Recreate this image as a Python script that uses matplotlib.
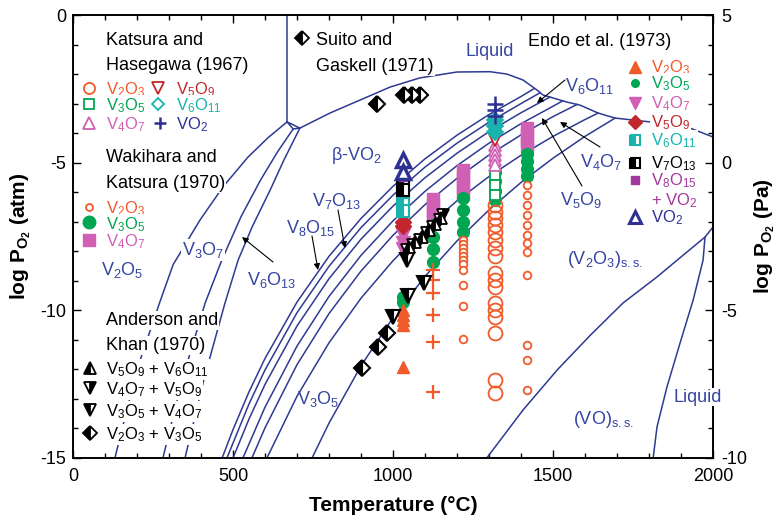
import matplotlib
matplotlib.use('Agg')
import matplotlib.pyplot as plt
from matplotlib.ticker import MultipleLocator

plt.rcParams['font.family'] = ['Liberation Sans', 'DejaVu Sans']
plt.rcParams['mathtext.fontset'] = 'custom'
plt.rcParams['mathtext.rm'] = 'Liberation Sans'
plt.rcParams['mathtext.it'] = 'Liberation Sans:italic'
plt.rcParams['mathtext.bf'] = 'Liberation Sans:bold'
plt.rcParams['axes.unicode_minus'] = False

# ---------------- phase boundaries (T in degC, log PO2 in atm) ----------------
liquid_top_T = [709, 803, 897, 991, 1084, 1200, 1303, 1356, 1406, 1450, 1469, 1544, 1584, 1641, 1694, 1803, 1919, 2000]
liquid_top_L = [-3.83, -3.32, -2.88, -2.44, -2.13, -1.93, -1.92, -2.00, -2.20, -2.54, -2.71, -2.95, -3.05, -3.32, -3.49, -3.62, -3.79, -4.13]

v2o5_melt_T = [669, 669]
v2o5_melt_L = [0.0, -3.62]
triple_T = [669, 688, 709, 669]
triple_L = [-3.62, -3.86, -3.83, -3.62]

lineA_T = [131, 200, 272, 313, 397, 470, 547, 610, 669]
lineA_L = [-15.0, -12.0, -9.7, -8.45, -6.94, -5.8, -4.81, -4.15, -3.62]
lineB_T = [281, 340, 413, 465, 525, 586, 640, 688]
lineB_L = [-15.0, -12.4, -9.75, -8.3, -6.83, -5.59, -4.62, -3.86]
lineC_T = [350, 410, 475, 516, 560, 616, 660, 709]
lineC_L = [-15.0, -12.3, -9.75, -8.3, -7.17, -5.93, -4.89, -3.83]

fan1_T = [466, 500, 550, 600, 700, 800, 900, 1000, 1100, 1200, 1300, 1400, 1440]
fan1_L = [-15.0, -14.04, -12.76, -11.63, -9.72, -8.17, -6.89, -5.80, -4.87, -4.07, -3.37, -2.76, -2.50]
fan2_T = [481, 550, 600, 700, 800, 900, 1000, 1100, 1200, 1300, 1400, 1460]
fan2_L = [-15.0, -13.17, -12.02, -10.08, -8.51, -7.20, -6.10, -5.15, -4.34, -3.63, -3.00, -2.63]
fan3_T = [500, 550, 600, 700, 800, 900, 1000, 1100, 1200, 1300, 1400, 1490]
fan3_L = [-15.0, -13.68, -12.51, -10.53, -8.93, -7.59, -6.47, -5.51, -4.68, -3.95, -3.31, -2.78]
fan4_T = [531, 600, 700, 800, 900, 1000, 1100, 1200, 1300, 1400, 1500, 1530]
fan4_L = [-15.0, -13.28, -11.21, -9.53, -8.14, -6.97, -5.97, -5.10, -4.34, -3.68, -3.09, -2.91]
fan5_T = [559, 600, 700, 800, 900, 1000, 1100, 1200, 1300, 1400, 1500, 1575]
fan5_L = [-15.0, -13.98, -11.84, -10.11, -8.67, -7.46, -6.42, -5.53, -4.74, -4.06, -3.44, -3.03]
fan6_T = [606, 700, 800, 900, 1000, 1100, 1200, 1300, 1400, 1500, 1600, 1641]
fan6_L = [-15.0, -12.91, -11.10, -9.59, -8.32, -7.23, -6.29, -5.47, -4.75, -4.11, -3.54, -3.32]
fan7_T = [747, 800, 900, 1000, 1100, 1200, 1300, 1400, 1500, 1600, 1694]
fan7_L = [-15.0, -13.82, -11.88, -10.25, -8.85, -7.65, -6.60, -5.67, -4.85, -4.11, -3.49]

vo_T = [1293, 1406, 1513, 1616, 1719, 1825, 1888, 1975]
vo_L = [-15.0, -13.38, -12.02, -10.85, -9.75, -8.87, -8.30, -7.52]
liquid_low_T = [1813, 1825, 1856, 1897, 1938, 1969, 1975, 2000]
liquid_low_L = [-15.0, -13.95, -12.60, -11.11, -9.65, -8.30, -7.52, -7.18]

# ---------------- experimental data ----------------
# Katsura & Hasegawa (1967), 1320 degC
kh_T = 1320
kh_VO2 = [-3.01, -3.22, -3.42]
kh_V6O11 = [-3.56, -3.76, -3.96]
kh_V5O9 = [-4.23]
kh_V4O7 = [-4.40, -4.57, -4.74, -4.91, -5.08]
kh_V3O5 = [-5.42, -5.76, -6.10]
kh_V2O3 = [-6.43, -6.67, -6.87, -7.11, -7.35, -7.62, -7.89, -8.16, -8.74, -8.97, -9.21,
           -9.75, -9.99, -10.23, -10.77, -12.36, -12.80]
cross_T = 1125
cross_L = [-8.64, -8.97, -9.41, -10.16, -11.07, -12.77]

# Wakihara & Katsura (1970)
wk_V2O3_T = [1220, 1220, 1220, 1220, 1220, 1220, 1220, 1220, 1220, 1220, 1220,
             1420, 1420, 1420, 1420, 1420, 1420, 1420, 1420, 1420, 1420, 1420, 1420]
wk_V2O3_L = [-7.62, -7.76, -7.89, -8.03, -8.16, -8.30, -8.43, -8.64, -9.14, -9.85, -10.97,
             -5.76, -6.10, -6.43, -6.77, -7.11, -7.45, -7.72, -8.03, -8.80, -11.17, -11.68, -12.70]
wk_V3O5_T = [1030, 1030, 1125, 1125, 1125, 1125, 1220, 1220, 1220, 1220,
             1320, 1320, 1320, 1320, 1420, 1420, 1420, 1420]
wk_V3O5_L = [-9.55, -9.72, -7.11, -7.52, -7.92, -8.36, -6.20, -6.60, -7.00, -7.35,
             -5.30, -5.62, -5.95, -6.27, -4.70, -4.95, -5.20, -5.45]
wk_V4O7_T = [1125, 1125, 1125, 1125, 1220, 1220, 1220, 1220, 1220, 1420, 1420, 1420, 1420]
wk_V4O7_L = [-6.23, -6.43, -6.64, -6.81, -5.25, -5.45, -5.65, -5.85, -6.05, -3.83, -4.03, -4.23, -4.43]

# Endo et al. (1973), 1030 degC
endo_T = 1030
endo_VO2 = [-4.91, -5.32]
endo_V8O15 = [-5.49]
endo_V7O13 = [-5.69, -5.93]
endo_V6O11 = [-6.16, -6.40, -6.64]
endo_V5O9 = [-7.01, -7.15]
endo_V4O7 = [-7.45, -7.72, -7.92]
endo_V2O3 = [-9.99, -10.16, -10.33, -10.50, -11.92]

# Anderson & Khan (1970)
ak_V2O3_V3O5_T = [903, 953, 981]
ak_V2O3_V3O5_L = [-11.95, -11.24, -10.77]
ak_V3O5_V4O7_T = [1000, 1047, 1097, 1044]
ak_V3O5_V4O7_L = [-10.23, -9.52, -9.08, -8.30]
ak_V4O7_V5O9_T = [1044, 1063, 1084, 1106, 1125, 1147, 1156]
ak_V4O7_V5O9_L = [-7.96, -7.79, -7.62, -7.38, -7.18, -6.94, -6.77]
ak_V5O9_V6O11_T = [1050, 1070, 1090, 1112, 1132, 1150]
ak_V5O9_V6O11_L = [-7.86, -7.70, -7.50, -7.28, -7.06, -6.86]

# Suito & Gaskell (1971)
sg_T = [950, 1035, 1060, 1085]
sg_L = [-3.00, -2.71, -2.71, -2.71]

# ---------------- styling ----------------
LC = '#2E3A92'
LBL = '#3545A2'
ORANGE = '#F15A29'
GREEN = '#00A651'
PINK = '#D060B4'
DRED = '#C1272D'
TEAL = '#17B3AC'
BLUE = '#2E3192'
PURPLE = '#A3389C'

fig = plt.figure(figsize=(7.77, 5.17), dpi=100)
X0, X1, Y0, Y1 = 73, 713, 15, 458
ax = fig.add_axes([X0 / 777, (517 - Y1) / 517, (X1 - X0) / 777, (Y1 - Y0) / 517])
ax.set_xlim(0, 2000)
ax.set_ylim(-15, 0)

def P(px, py):
    return ((px - X0) / (X1 - X0), (Y1 - py) / (Y1 - Y0))

curves = [(liquid_top_T, liquid_top_L), (v2o5_melt_T, v2o5_melt_L), (triple_T, triple_L),
          (lineA_T, lineA_L), (lineB_T, lineB_L), (lineC_T, lineC_L),
          (fan1_T, fan1_L), (fan2_T, fan2_L), (fan3_T, fan3_L), (fan4_T, fan4_L),
          (fan5_T, fan5_L), (fan6_T, fan6_L), (fan7_T, fan7_L),
          (vo_T, vo_L), (liquid_low_T, liquid_low_L)]
for T, L in curves:
    ax.plot(T, L, color=LC, lw=1.1, zorder=2, solid_joinstyle='round')

def col(T, L):
    return [T] * len(L), L

# Wakihara & Katsura
ax.plot(wk_V4O7_T, wk_V4O7_L, 's', ms=8, color=PINK, mec=PINK, zorder=3)
ax.plot(wk_V3O5_T, wk_V3O5_L, 'o', ms=8.5, color=GREEN, mec=GREEN, zorder=3)
ax.plot(wk_V2O3_T, wk_V2O3_L, 'o', ms=5.5, mfc='white', mec=ORANGE, mew=1.3, zorder=3)
# Katsura & Hasegawa
ax.plot(*col(kh_T, kh_V2O3), 'o', ms=10, mfc='none', mec=ORANGE, mew=1.3, zorder=3)
ax.plot(*col(kh_T, kh_V3O5), 's', ms=7, mfc='white', mec=GREEN, mew=1.3, zorder=3)
ax.plot(*col(kh_T, kh_V4O7), '^', ms=9, mfc='white', mec=PINK, mew=1.3, zorder=3)
ax.plot(*col(kh_T, kh_V5O9), 'v', ms=8, mfc='white', mec=DRED, mew=1.3, zorder=3)
ax.plot(*col(kh_T, kh_V6O11), 'D', ms=8, mfc=TEAL, mec=TEAL, mew=1.3, zorder=3)
ax.plot(*col(kh_T, kh_VO2), '+', ms=11, mec=BLUE, mew=1.8, zorder=3)
ax.plot(*col(cross_T, cross_L), '+', ms=10, mec=ORANGE, mew=1.6, zorder=3)
# Endo et al.
ax.plot(*col(endo_T, endo_V2O3), '^', ms=9, color=ORANGE, zorder=3)
ax.plot(*col(endo_T, endo_V4O7), 'v', ms=10, color=PINK, zorder=3)
ax.plot(*col(endo_T, endo_V5O9), 'D', ms=8, color=DRED, zorder=3)
ax.plot(*col(endo_T, endo_V6O11), 's', ms=8, color=TEAL, fillstyle='left', markerfacecoloralt='white', mec=TEAL, mew=1.5, zorder=3)
ax.plot(*col(endo_T, endo_V7O13), 's', ms=8, color='black', fillstyle='left', markerfacecoloralt='white', mec='black', mew=1.5, zorder=3)
ax.plot(*col(endo_T, endo_V8O15), 's', ms=6, color=PURPLE, zorder=3)
ax.plot(*col(endo_T, endo_VO2), '^', ms=10, mfc='white', mec=BLUE, mew=2.5, zorder=3)
# Anderson & Khan
ax.plot(ak_V2O3_V3O5_T, ak_V2O3_V3O5_L, 'D', ms=8, color='black', fillstyle='left', markerfacecoloralt='white', mec='black', mew=1.5, zorder=4)
ax.plot(ak_V3O5_V4O7_T, ak_V3O5_V4O7_L, 'v', ms=10, color='black', fillstyle='left', markerfacecoloralt='white', mec='black', mew=1.5, zorder=4)
ax.plot(ak_V4O7_V5O9_T, ak_V4O7_V5O9_L, 'v', ms=9, color='black', fillstyle='right', markerfacecoloralt='white', mec='black', mew=1.3, zorder=4)
ax.plot(ak_V5O9_V6O11_T, ak_V5O9_V6O11_L, '^', ms=9, color='black', fillstyle='left', markerfacecoloralt='white', mec='black', mew=1.3, zorder=4)
# Suito & Gaskell
ax.plot(sg_T, sg_L, 'D', ms=8, color='black', fillstyle='left', markerfacecoloralt='white', mec='black', mew=1.5, zorder=4)

# ---------------- texts ----------------
WB = dict(boxstyle='square,pad=0.06', fc='white', ec='none')

def txt(px, py, s, color='black', size=12, ha='left', va='baseline', box=True, axis=None, **kw):
    a = axis if axis is not None else ax
    x, y = P(px, py)
    a.text(x, y, s, transform=ax.transAxes, color=color, fontsize=size, ha=ha, va=va,
           zorder=6, bbox=WB if box else None, clip_on=False, **kw)

def mk(px, py, **kw):
    x, y = P(px, py)
    ax.plot([x], [y], transform=ax.transAxes, clip_on=False, zorder=7, ls='none', **kw)

def arrow(tail, tip):
    ax.annotate('', xy=P(*tip), xytext=P(*tail), xycoords='axes fraction', textcoords='axes fraction',
                arrowprops=dict(arrowstyle='-|>', color='black', lw=0.8, mutation_scale=9,
                                shrinkA=0, shrinkB=0), zorder=5)

# Katsura and Hasegawa legend
txt(106, 45, 'Katsura and', size=13)
txt(106, 70, 'Hasegawa (1967)', size=13)
mk(89, 88, marker='o', ms=8, mfc='white', mec=ORANGE, mew=1.3)
txt(106, 94, 'V$_2$O$_3$', ORANGE)
mk(158, 88, marker='v', ms=8, mfc='white', mec=DRED, mew=1.3)
txt(176, 94, 'V$_5$O$_9$', DRED)
mk(89, 104, marker='s', ms=7, mfc='white', mec=GREEN, mew=1.3)
txt(106, 110, 'V$_3$O$_5$', GREEN)
mk(158, 104, marker='D', ms=6.5, mfc='white', mec=TEAL, mew=1.3)
txt(176, 110, 'V$_6$O$_{11}$', TEAL)
mk(89, 123, marker='^', ms=8, mfc='white', mec=PINK, mew=1.3)
txt(106, 129, 'V$_4$O$_7$', PINK)
mk(160, 123, marker='+', ms=9, mec=BLUE, mew=1.8)
txt(176, 129, 'VO$_2$', BLUE)

# Wakihara and Katsura legend
txt(106, 162, 'Wakihara and', size=13)
txt(106, 188, 'Katsura (1970)', size=13)
mk(89, 207, marker='o', ms=5, mfc='white', mec=ORANGE, mew=1.3)
txt(106, 213, 'V$_2$O$_3$', ORANGE)
mk(89, 222, marker='o', ms=9, color=GREEN)
txt(106, 229, 'V$_3$O$_5$', GREEN)
mk(89, 240, marker='s', ms=8, color=PINK)
txt(106, 246, 'V$_4$O$_7$', PINK)

# Anderson and Khan legend
txt(106, 325, 'Anderson and', size=13)
txt(106, 350, 'Khan (1970)', size=13)
mk(90, 368, marker='^', ms=8, color='black', fillstyle='left', markerfacecoloralt='white', mec='black', mew=1.3)
txt(106, 374, 'V$_5$O$_9$ + V$_6$O$_{11}$')
mk(90, 388, marker='v', ms=8, color='black', fillstyle='right', markerfacecoloralt='white', mec='black', mew=1.3)
txt(106, 394, 'V$_4$O$_7$ + V$_5$O$_9$')
mk(90, 410, marker='v', ms=8, color='black', fillstyle='left', markerfacecoloralt='white', mec='black', mew=1.3)
txt(106, 416, 'V$_3$O$_5$ + V$_4$O$_7$')
mk(90, 433, marker='D', ms=7, color='black', fillstyle='left', markerfacecoloralt='white', mec='black', mew=1.3)
txt(106, 439, 'V$_2$O$_3$ + V$_3$O$_5$')

# Suito and Gaskell legend
mk(302, 38, marker='D', ms=7, color='black', fillstyle='left', markerfacecoloralt='white', mec='black', mew=1.3)
txt(316, 45, 'Suito and', size=13)
txt(316, 71, 'Gaskell (1971)', size=13)

# Endo et al. legend
txt(528, 46, 'Endo et al. (1973)', size=13)
mk(635, 67, marker='^', ms=9, color=ORANGE)
txt(651, 72, 'V$_2$O$_3$', ORANGE)
mk(635, 83, marker='o', ms=5.5, color=GREEN)
txt(651, 88, 'V$_3$O$_5$', GREEN)
mk(635, 103, marker='v', ms=9, color=PINK)
txt(651, 108, 'V$_4$O$_7$', PINK)
mk(635, 122, marker='D', ms=7.5, color=DRED)
txt(651, 127, 'V$_5$O$_9$', DRED)
mk(635, 140, marker='s', ms=7, color=TEAL, fillstyle='left', markerfacecoloralt='white', mec=TEAL, mew=1.5)
txt(651, 145, 'V$_6$O$_{11}$', TEAL)
mk(635, 163, marker='s', ms=7, color='black', fillstyle='left', markerfacecoloralt='white', mec='black', mew=1.5)
txt(651, 168, 'V$_7$O$_{13}$')
mk(635, 180, marker='s', ms=5.5, color=PURPLE)
txt(651, 185, 'V$_8$O$_{15}$', PURPLE)
txt(651, 205, '+ VO$_2$', PURPLE)
mk(635, 217, marker='^', ms=9, mfc='white', mec=BLUE, mew=2.2)
txt(651, 222, 'VO$_2$', BLUE)

# phase-field labels
def lab(px, py, s, box=False, **kw):
    txt(px, py, s, color=LBL, size=13, ha='center', va='center', box=box, **kw)

lab(490, 52, 'Liquid')
lab(356, 155, '\u03b2-VO$_2$')
lab(122, 270, 'V$_2$O$_5$')
lab(203, 250, 'V$_3$O$_7$', box=True)
lab(272, 280, 'V$_6$O$_{13}$')
lab(337, 201, 'V$_7$O$_{13}$')
lab(311, 228, 'V$_8$O$_{15}$')
lab(318, 399, 'V$_3$O$_5$')
lab(590, 86, 'V$_6$O$_{11}$')
lab(601, 162, 'V$_4$O$_7$')
lab(581, 200, 'V$_5$O$_9$')
lab(605, 259, '(V$_2$O$_3$)$_{\\mathrm{s.s.}}$')
lab(603, 419, '(VO)$_{\\mathrm{s.s.}}$')

arrow((273, 262), (242, 237))
arrow((338, 210), (345, 248))
arrow((312, 236), (318, 270))
arrow((565, 80), (537, 103))
arrow((582, 186), (542, 118))
arrow((600, 147), (560, 122))

# ---------------- axes ----------------
ax.set_xticks([0, 500, 1000, 1500, 2000])
ax.xaxis.set_minor_locator(MultipleLocator(100))
ax.set_yticks([-15, -10, -5, 0])
ax.yaxis.set_minor_locator(MultipleLocator(1))
ax.tick_params(which='both', direction='in', top=True, right=False, labelsize=13, width=1.0)
ax.tick_params(which='major', length=6)
ax.tick_params(which='minor', length=3.5)
ax.tick_params(axis='x', pad=7)
ax.tick_params(axis='y', pad=5)
for s in ax.spines.values():
    s.set_linewidth(1.2)

ax2 = ax.twinx()
ax2.set_ylim(-10, 5)
ax2.set_yticks([-10, -5, 0, 5])
ax2.yaxis.set_minor_locator(MultipleLocator(1))
ax2.tick_params(which='both', direction='in', labelsize=13, width=1.0, pad=6)
ax2.tick_params(which='major', length=6)
ax2.tick_params(which='minor', length=3.5)
for s in ax2.spines.values():
    s.set_linewidth(1.2)

# bottom-right Liquid label (covers the right spine)
x, y = P(698, 397)
ax2.text(x, y, 'Liquid', transform=ax.transAxes, color=LBL, fontsize=13, ha='center', va='center',
         zorder=10, clip_on=False, bbox=dict(boxstyle='square,pad=0.05', fc='white', ec='none'))

ax.set_xlabel('Temperature (\u00b0C)', fontsize=15, fontweight='bold')
ax.xaxis.set_label_coords(0.5, -0.085)
ax.set_ylabel(r'log P$_{\mathbf{O_2}}$ (atm)', fontsize=15, fontweight='bold')
ax.yaxis.set_label_coords(-0.062, 0.5)
ax2.set_ylabel(r'log P$_{\mathbf{O_2}}$ (Pa)', fontsize=15, fontweight='bold')
ax2.yaxis.set_label_coords(1.062, 0.5)

fig.savefig('out.png', dpi=100)
